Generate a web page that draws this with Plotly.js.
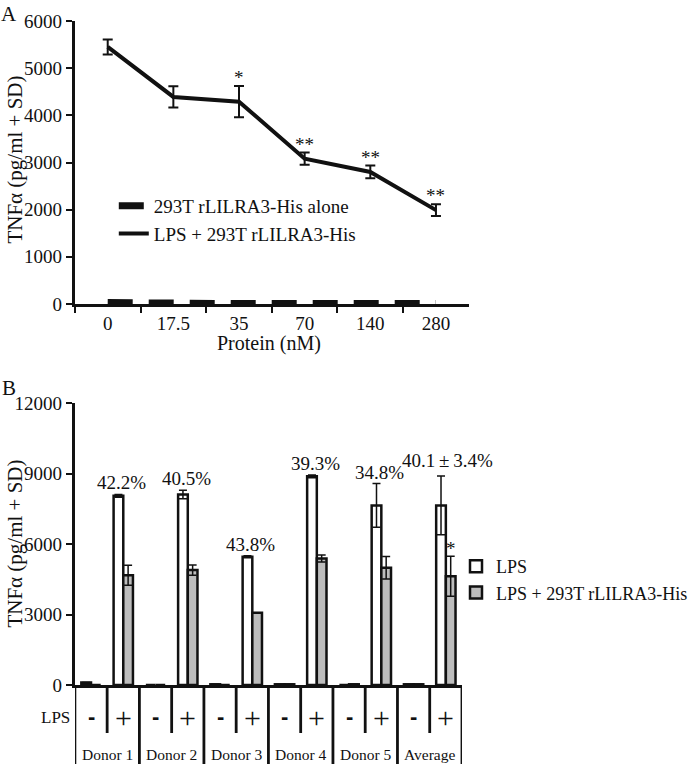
<!DOCTYPE html>
<html>
<head>
<meta charset="utf-8">
<script src="https://cdn.plot.ly/plotly-3.0.1.min.js"></script>
<style>html,body{margin:0;padding:0;background:#fff;}#chart{width:693px;height:764px;}</style>
</head>
<body>
<div id="chart"></div>
<script>
// ---------- Panel A data ----------
const doses = ["0", "17.5", "35", "70", "140", "280"];
const lpsProtein = [5450, 4390, 4290, 3080, 2800, 1990];
const lpsProteinSD = [160, 225, 330, 130, 135, 125];
const proteinAlone = [30, 10, 8, 8, 8, 8];
const signifA = ["", "", "*", "**", "**", "**"];
const seriesNamesA = ["293T rLILRA3-His alone", "LPS + 293T rLILRA3-His"];

// ---------- Panel B data ----------
const donors = ["Donor 1", "Donor 2", "Donor 3", "Donor 4", "Donor 5", "Average"];
const lpsRow = ["-", "+"];
const whiteMinus = [110, 0, 30, 30, 0, 30];
const grayMinus = [0, 0, 0, 30, 30, 30];
const whitePlus = [8050, 8110, 5460, 8880, 7640, 7640];
const whitePlusSD = [60, 180, 40, 60, 930, 1250];
const grayPlus = [4670, 4890, 3070, 5380, 4990, 4630];
const grayPlusSD = [430, 220, 0, 150, 480, 850];
const pctLabels = ["42.2%", "40.5%", "43.8%", "39.3%", "34.8%", "40.1\u2009±\u20093.4%"];
const signifB = ["", "", "", "", "", "*"];
const seriesNamesB = ["LPS", "LPS + 293T rLILRA3-His"];

const FONT = "Liberation Serif";
const SANS = "Liberation Sans";
const W = 693, H = 764;
const px = v => v / W;
const py = v => 1 - v / H;

// positions on panel B numeric axis: group g -> "-" at 2g+0.5, "+" at 2g+1.5
const xB = [];
const wB = [], gB = [], wBsd = [], gBsd = [];
donors.forEach((d, g) => {
  xB.push(2 * g + 0.5, 2 * g + 1.5);
  wB.push(whiteMinus[g], whitePlus[g]);
  gB.push(grayMinus[g], grayPlus[g]);
  wBsd.push(0, whitePlusSD[g]);
  gBsd.push(0, grayPlusSD[g]);
});

const traces = [
  {
    type: "scatter", mode: "lines", x: doses, y: proteinAlone,
    name: seriesNamesA[0], xaxis: "x", yaxis: "y", legend: "legend", legendgroup: "a1",
    line: { color: "#111", width: 7, dash: "25px,16px" }, hoverinfo: "skip"
  },
  {
    type: "scatter", mode: "lines", x: doses, y: lpsProtein,
    name: seriesNamesA[1], xaxis: "x", yaxis: "y", legend: "legend", legendgroup: "a2",
    line: { color: "#111", width: 4 },
    error_y: { type: "data", array: lpsProteinSD, visible: true, color: "#111", thickness: 2, width: 5 },
    hoverinfo: "skip"
  },
  {
    type: "bar", x: xB, y: wB, name: seriesNamesB[0], xaxis: "x2", yaxis: "y2",
    legend: "legend2", legendgroup: "b1",
    marker: { color: "#ffffff", line: { color: "#111", width: 2.5 } },
    error_y: { type: "data", array: wBsd, visible: true, color: "#111", thickness: 1.5, width: 4 },
    hoverinfo: "skip"
  },
  {
    type: "bar", x: xB, y: gB, name: seriesNamesB[1], xaxis: "x2", yaxis: "y2",
    legend: "legend2", legendgroup: "b2",
    marker: { color: "#bdbdbd", line: { color: "#111", width: 2.5 } },
    error_y: { type: "data", array: gBsd, visible: true, color: "#111", thickness: 1.5, width: 4 },
    hoverinfo: "skip"
  }
];

const annotations = [];
const ann = (o) => annotations.push(Object.assign({ showarrow: false, xanchor: "center", yanchor: "middle", borderpad: 0 }, o));
// panel letters
ann({ text: "A", x: px(9), y: py(14), xref: "paper", yref: "paper", font: { size: 21 } });
ann({ text: "B", x: px(9), y: py(388), xref: "paper", yref: "paper", font: { size: 21 } });
// y titles
ann({ text: "TNFα (pg/ml + SD)", x: px(15), y: py(160), xref: "paper", yref: "paper", textangle: -90, font: { size: 21 } });
ann({ text: "TNFα (pg/ml + SD)", x: px(15), y: py(544), xref: "paper", yref: "paper", textangle: -90, font: { size: 21 } });
// x title A
ann({ text: "Protein (nM)", x: px(277), y: py(343), xref: "paper", yref: "paper", font: { size: 20 } });
// significance A (category index positions)
doses.forEach((d, i) => {
  if (signifA[i]) ann({ text: signifA[i], x: i, y: lpsProtein[i] + lpsProteinSD[i], xref: "x", yref: "y",
    yanchor: "bottom", font: { size: 19 }, yshift: -3 });
});
// percentages & significance B, table labels
donors.forEach((d, g) => {
  const last = g === donors.length - 1;
  ann({ text: pctLabels[g], x: 2 * g + (last ? 1.55 : 1.45), y: whitePlus[g] + whitePlusSD[g], xref: "x2", yref: "y2",
    yanchor: "bottom", font: { size: 19 }, yshift: last ? 4 : 0 });
  if (signifB[g]) ann({ text: signifB[g], x: 2 * g + 1.65, y: grayPlus[g] + grayPlusSD[g], xref: "x2", yref: "y2",
    yanchor: "bottom", font: { size: 19 }, yshift: -4 });
  ann({ text: "<b>" + lpsRow[0] + "</b>", x: 2 * g + 0.5, y: py(716), xref: "x2", yref: "paper",
    font: { size: 22, family: SANS } });
  ann({ text: lpsRow[1], x: 2 * g + 1.5, y: py(717), xref: "x2", yref: "paper", font: { size: 30 } });
  ann({ text: d, x: 2 * g + 1, y: py(754), xref: "x2", yref: "paper", font: { size: 15.5 } });
});
ann({ text: "LPS", x: px(57), y: py(717), xref: "paper", yref: "paper", font: { size: 17 } });

// table lines for panel B
const shapes = [];
for (let g = 0; g <= donors.length; g++) {
  shapes.push({ type: "line", xref: "x2", yref: "paper", x0: 2 * g, x1: 2 * g, y0: py(685), y1: 0,
    line: { color: "#111", width: 2.8 } });
  if (g < donors.length) shapes.push({ type: "line", xref: "x2", yref: "paper", x0: 2 * g + 1, x1: 2 * g + 1,
    y0: py(685), y1: py(733), line: { color: "#111", width: 2.8 } });
}

const axisCommon = {
  showgrid: false, zeroline: false, showline: true, linecolor: "#111", linewidth: 3,
  ticks: "outside", tickcolor: "#111", tickwidth: 2, ticklen: 6,
  tickfont: { size: 19, family: FONT, color: "#111" }, fixedrange: true, tickformat: "d"
};

const layout = {
  width: W, height: H,
  margin: { l: 0, r: 0, t: 0, b: 0, pad: 0 },
  paper_bgcolor: "#fff", plot_bgcolor: "#fff",
  font: { family: FONT, color: "#111", size: 19 },
  showlegend: true,
  barmode: "group", bargap: 0.4, bargroupgap: 0,
  xaxis: Object.assign({}, axisCommon, {
    domain: [px(77), px(482)], anchor: "y", type: "category", tickson: "boundaries",
    range: [-0.5, 5.5]
  }),
  yaxis: Object.assign({}, axisCommon, {
    domain: [py(304), py(21)], anchor: "x", range: [0, 6000],
    tickvals: [0, 1000, 2000, 3000, 4000, 5000, 6000]
  }),
  xaxis2: Object.assign({}, axisCommon, {
    domain: [px(77), px(475)], anchor: "y2", range: [0, 12], ticks: "", showticklabels: false
  }),
  yaxis2: Object.assign({}, axisCommon, {
    domain: [py(685), py(403)], anchor: "x2", range: [0, 12000],
    tickvals: [0, 3000, 6000, 9000, 12000]
  }),
  legend: {
    x: px(117), y: py(187), xanchor: "left", yanchor: "top", bgcolor: "rgba(0,0,0,0)",
    font: { size: 19, family: FONT }, tracegroupgap: 3, itemwidth: 30, traceorder: "normal"
  },
  legend2: {
    x: px(469), y: py(548), xanchor: "left", yanchor: "top", bgcolor: "rgba(0,0,0,0)",
    font: { size: 18, family: FONT }, tracegroupgap: 2, itemwidth: 30, traceorder: "normal"
  },
  annotations: annotations,
  shapes: shapes
};

Plotly.newPlot("chart", traces, layout, { staticPlot: true, displayModeBar: false });
</script>
</body>
</html>
